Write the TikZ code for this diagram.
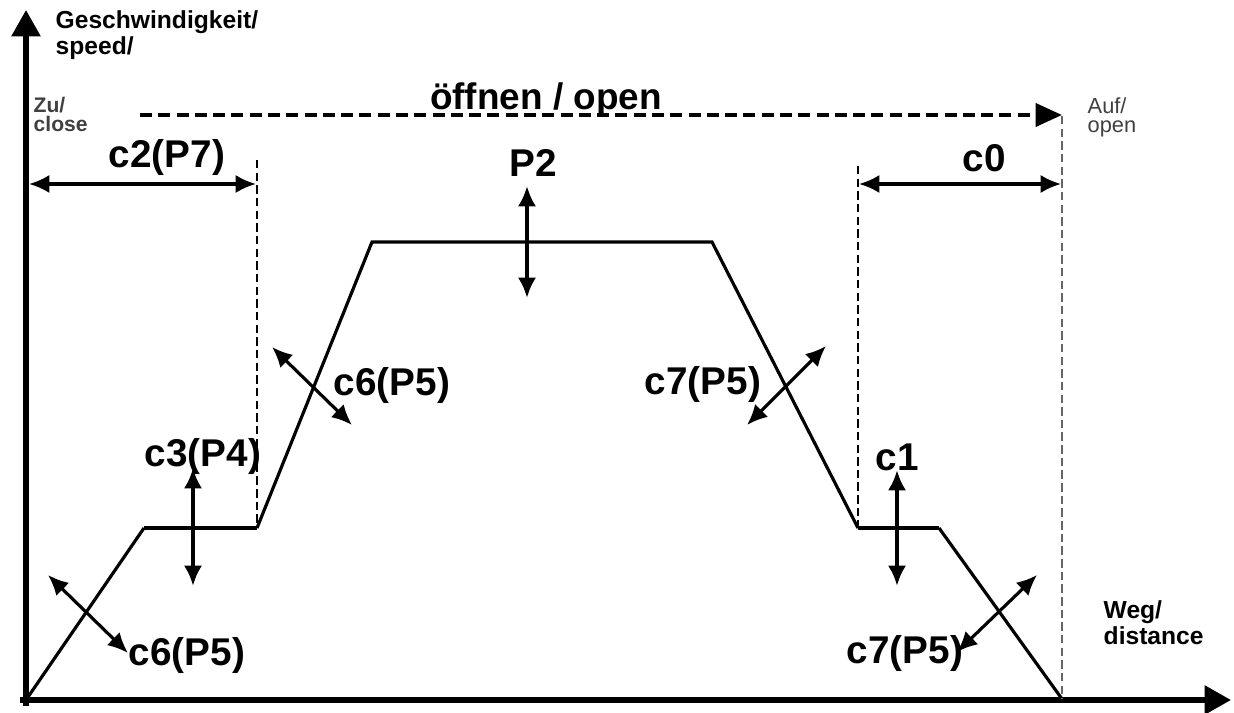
\documentclass[tikz,border=0pt]{standalone}
\usepackage{fontspec}
\setmainfont{Liberation Sans}
\usetikzlibrary{arrows.meta}

\begin{document}
\begin{tikzpicture}[x=0.01cm,y=-0.01cm,
   axis/.style={line width=1.5pt,-{Triangle[length=7.5pt,width=8pt]}},
   ramp/.style={line width=0.9pt},
   flat/.style={line width=1.4pt},
   twoway/.style={line width=1.1pt,{Latex[length=5.8pt,width=5.2pt]}-{Latex[length=5.8pt,width=5.2pt]}},
   guide/.style={line width=0.6pt,dash pattern=on 2.4pt off 1.2pt},
   lab/.style={font=\fontsize{11}{12}\selectfont\bfseries,inner sep=0pt},
   small/.style={font=\fontsize{7}{7.4}\selectfont\bfseries,align=left,inner sep=0pt}]
\useasboundingbox (0,0) rectangle (1234,713);

% axes
\coordinate (O) at (26,700);
\coordinate (ytop) at (26,10);
\coordinate (xend) at (1231,700);
\draw[axis] (26,706) -- (ytop);
\draw[axis] (20,700) -- (xend);
\node[small,anchor=north west] (vlab) at (55,10) {Geschwindigkeit/\\speed/};
\node[small,anchor=north west] (dlab) at (1103,600) {Weg/\\distance};
\node[small,font=\fontsize{6}{5.2}\selectfont\bfseries,text=black!75,anchor=north west] (close) at (33,97) {Zu/\\close};
\node[small,font=\fontsize{6.2}{5.4}\selectfont,text=black!75,anchor=north west] (open) at (1087,97) {Auf/\\open};

% speed profile
\coordinate (s0) at (28,697);
\coordinate (s1) at (144,528);
\coordinate (s2) at (257,528);
\coordinate (s3) at (372,242);
\coordinate (s4) at (712,242);
\coordinate (s5) at (858,528);
\coordinate (s6) at (939,528);
\coordinate (s7) at (1062,699);
\draw[ramp] (s0) -- (s1) (s2) -- (s3) -- (s4) -- (s5) (s6) -- (s7);
\draw[flat] (s1) -- (s2) (s5) -- (s6);

% guide lines
\coordinate (g1) at (257,160);
\coordinate (g2) at (858,166);
\coordinate (g3) at (1062,116);
\draw[guide] (g1) -- (s2);
\draw[guide] (g2) -- (s5);
\draw[guide,black!60] (g3) -- (s7);

% direction
\coordinate (d0) at (140,115);
\coordinate (d1) at (1062,115);
\draw[line width=1.2pt,dash pattern=on 3.4pt off 1.8pt,-{Triangle[length=7.5pt,width=6.5pt]}] (d0) -- (d1);
\node[lab,font=\fontsize{10.5}{12}\selectfont\bfseries] (dir) at (546,100) {öffnen / open};

% distances
\coordinate (a0) at (29,184);
\coordinate (a1) at (256,184);
\draw[twoway,line width=0.9pt] (a0) -- (a1);
\node[lab] (c2) at (167,158) {c2(P7)};
\coordinate (b0) at (859,184);
\coordinate (b1) at (1061,184);
\draw[twoway,line width=0.9pt] (b0) -- (b1);
\node[lab] (c0) at (984,158) {c0};

% speeds
\node[lab] (p2) at (533,163) {P2};
\coordinate (p2a) at (527,186);
\coordinate (p2b) at (527,298);
\draw[twoway] (p2a) -- (p2b);
\node[lab] (c3) at (203,457) {c3(P4)};
\coordinate (c3a) at (193,468);
\coordinate (c3b) at (193,586);
\draw[twoway,line width=1.3pt] (c3a) -- (c3b);
\node[lab] (c1) at (897,457) {c1};
\coordinate (c1a) at (897,470);
\coordinate (c1b) at (897,586);
\draw[twoway,line width=1.3pt] (c1a) -- (c1b);

% ramps
\coordinate (r1a) at (48,575);
\coordinate (r1b) at (128,653);
\draw[twoway,line width=0.9pt] (r1a) -- (r1b);
\node[lab] (c6a) at (187,655) {c6(P5)};
\coordinate (r2a) at (272,347);
\coordinate (r2b) at (352,425);
\draw[twoway,line width=0.9pt] (r2a) -- (r2b);
\node[lab] (c6b) at (392,386) {c6(P5)};
\coordinate (r3a) at (747,425);
\coordinate (r3b) at (826,346);
\draw[twoway,line width=0.9pt] (r3a) -- (r3b);
\node[lab] (c7b) at (703,385) {c7(P5)};
\coordinate (r4a) at (957,652);
\coordinate (r4b) at (1037,575);
\draw[twoway,line width=0.9pt] (r4a) -- (r4b);
\node[lab] (c7a) at (905,653) {c7(P5)};
\end{tikzpicture}
\end{document}
